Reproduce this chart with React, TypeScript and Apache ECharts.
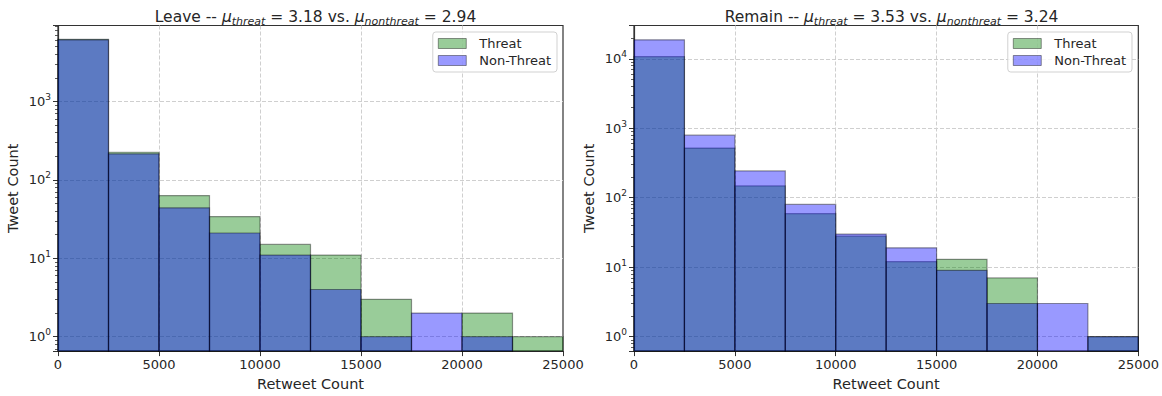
import React, { useEffect, useRef } from 'react';
import * as echarts from 'echarts';

// Histogram bin edges (Retweet Count)
const binEdges = [0, 2500, 5000, 7500, 10000, 12500, 15000, 17500, 20000, 22500, 25000];

// Leave panel counts per bin
const leaveThreat = [6200, 225, 63, 34, 15, 11, 3, 0, 2, 1];
const leaveNonThreat = [6100, 215, 44, 21, 11, 4, 1, 2, 1, 0];

// Remain panel counts per bin
const remainThreat = [10700, 518, 148, 59, 28, 12, 13, 7, 0, 1];
const remainNonThreat = [18700, 794, 243, 80, 30, 19, 9, 3, 3, 1];

const xTicks = [0, 5000, 10000, 15000, 20000, 25000];
const seriesNames = ['Threat', 'Non-Threat'];
const titles = [
  { name: 'Leave', threat: '3.18', nonthreat: '2.94' },
  { name: 'Remain', threat: '3.53', nonthreat: '3.24' },
];

const FONT = 'DejaVu Sans';
const TEXT = '#262626';
const AX = '#333333';
const GRIDC = '#cfcfcf';
const GREEN = 'rgba(0,128,0,0.4)';
const BLUE = 'rgba(0,0,255,0.4)';
const EDGE = 'rgba(0,0,0,0.4)';

function histData(values: number[]) {
  return values.map((v, i) => [binEdges[i], binEdges[i + 1], v]);
}

const makeRender = (fill: string) => (params: any, api: any) => {
  const v = api.value(2);
  if (!(v > 0)) return null;
  const p0 = api.coord([api.value(0), v]);
  const p1 = api.coord([api.value(1), v]);
  const cs = params.coordSys;
  const bottom = cs.y + cs.height;
  return {
    type: 'rect',
    shape: { x: p0[0], y: p0[1], width: p1[0] - p0[0], height: bottom - p0[1] },
    style: { fill, stroke: EDGE, lineWidth: 1.2 },
  };
};

const yLabelFormatter = (v: number) => {
  const l = Math.log10(v);
  const e = Math.round(l);
  return Math.abs(l - e) < 1e-6 ? `{b|10}{s|${e}}` : '';
};

function makeTitle(t: { name: string; threat: string; nonthreat: string }, cx: number) {
  return {
    text: `${t.name} -- {m|μ}{s|threat}{t| = ${t.threat} vs. }{m|μ}{s|nonthreat}{t| = ${t.nonthreat}}`,
    left: cx,
    top: 2,
    textAlign: 'center',
    textStyle: {
      fontFamily: FONT,
      fontSize: 15.5,
      fontWeight: 'normal',
      color: TEXT,
      lineHeight: 20,
      rich: {
        m: { fontFamily: FONT, fontSize: 15.5, fontStyle: 'italic', color: TEXT, lineHeight: 20 },
        s: { fontFamily: FONT, fontSize: 11, fontStyle: 'italic', color: TEXT, verticalAlign: 'bottom', lineHeight: 12 },
        t: { fontFamily: FONT, fontSize: 15.5, color: TEXT, lineHeight: 20 },
      },
    },
  };
}

const splitLineStyle = {
  show: true,
  showMinLine: false,
  showMaxLine: false,
  lineStyle: { type: [4, 2], color: GRIDC, width: 1 },
};

function makeX(gridIndex: number) {
  return {
    type: 'value',
    gridIndex,
    min: xTicks[0],
    max: xTicks[xTicks.length - 1],
    interval: xTicks[1] - xTicks[0],
    axisLine: { show: true, lineStyle: { color: AX, width: 1.2 } },
    axisTick: { show: true, length: 5, lineStyle: { color: AX, width: 1 } },
    axisLabel: {
      fontFamily: FONT,
      fontSize: 13,
      color: TEXT,
      margin: 7,
      showMinLabel: true,
      showMaxLabel: true,
      formatter: (v: number) => String(v),
    },
    splitLine: splitLineStyle,
    name: 'Retweet Count',
    nameLocation: 'middle',
    nameGap: 23,
    nameTextStyle: { fontFamily: FONT, fontSize: 14.5, color: TEXT },
  };
}

function makeY(gridIndex: number, min: number, max: number) {
  return {
    type: 'log',
    logBase: 10,
    gridIndex,
    min,
    max,
    axisLine: { show: true, lineStyle: { color: AX, width: 1.2 } },
    axisTick: { show: true, length: 5, lineStyle: { color: AX, width: 1 } },
    minorTick: { show: true, splitNumber: 9, length: 3, lineStyle: { color: AX, width: 0.8 } },
    axisLabel: {
      fontFamily: FONT,
      fontSize: 13,
      color: TEXT,
      margin: 7,
      formatter: yLabelFormatter,
      rich: {
        b: { fontFamily: FONT, fontSize: 13, color: TEXT, lineHeight: 18 },
        s: { fontFamily: FONT, fontSize: 9, color: TEXT, verticalAlign: 'top', lineHeight: 10 },
      },
    },
    splitLine: splitLineStyle,
    name: 'Tweet Count',
    nameLocation: 'middle',
    nameGap: 38,
    nameTextStyle: { fontFamily: FONT, fontSize: 14.5, color: TEXT },
  };
}

function makeLegend(right: number) {
  return {
    orient: 'vertical',
    right,
    top: 32,
    padding: [5, 6, 5, 5],
    itemGap: 4,
    itemWidth: 28,
    itemHeight: 10,
    icon: 'rect',
    backgroundColor: 'rgba(255,255,255,0.8)',
    borderColor: 'rgba(204,204,204,0.9)',
    borderWidth: 1,
    borderRadius: 3,
    textStyle: { fontFamily: FONT, fontSize: 13, color: TEXT, padding: [0, 0, 0, 8] },
    data: [
      { name: seriesNames[0], itemStyle: { color: GREEN, borderColor: EDGE, borderWidth: 1 } },
      { name: seriesNames[1], itemStyle: { color: BLUE, borderColor: EDGE, borderWidth: 1 } },
    ],
  };
}

function makeSeries(idx: number, threat: number[], nonThreat: number[]) {
  return [
    {
      type: 'custom',
      name: seriesNames[0],
      xAxisIndex: idx,
      yAxisIndex: idx,
      renderItem: makeRender(GREEN),
      itemStyle: { color: GREEN },
      encode: { x: [0, 1], y: 2 },
      data: histData(threat),
      z: 2,
    },
    {
      type: 'custom',
      name: seriesNames[1],
      xAxisIndex: idx,
      yAxisIndex: idx,
      renderItem: makeRender(BLUE),
      itemStyle: { color: BLUE },
      encode: { x: [0, 1], y: 2 },
      data: histData(nonThreat),
      z: 3,
    },
  ];
}

export default function App() {
  const ref = useRef<HTMLDivElement>(null);
  useEffect(() => {
    document.body.style.margin = '0';
    if (!ref.current) return;
    const chart = echarts.init(ref.current, undefined, { renderer: 'svg' });
    chart.setOption({
      animation: false,
      backgroundColor: '#ffffff',
      title: [makeTitle(titles[0], 310.5), makeTitle(titles[1], 886.5)],
      grid: [
        { left: 58, top: 25.5, width: 505, height: 328, show: true, borderColor: AX, borderWidth: 1.2, backgroundColor: 'transparent' },
        { left: 634, top: 25.5, width: 505, height: 328, show: true, borderColor: AX, borderWidth: 1.2, backgroundColor: 'transparent' },
      ],
      xAxis: [makeX(0), makeX(1)],
      yAxis: [makeY(0, 0.655, 9300), makeY(1, 0.62, 30100)],
      legend: [makeLegend(605), makeLegend(30)],
      series: [...makeSeries(0, leaveThreat, leaveNonThreat), ...makeSeries(1, remainThreat, remainNonThreat)],
    });
    return () => chart.dispose();
  }, []);
  return <div ref={ref} style={{ width: 1162, height: 396 }} />;
}
